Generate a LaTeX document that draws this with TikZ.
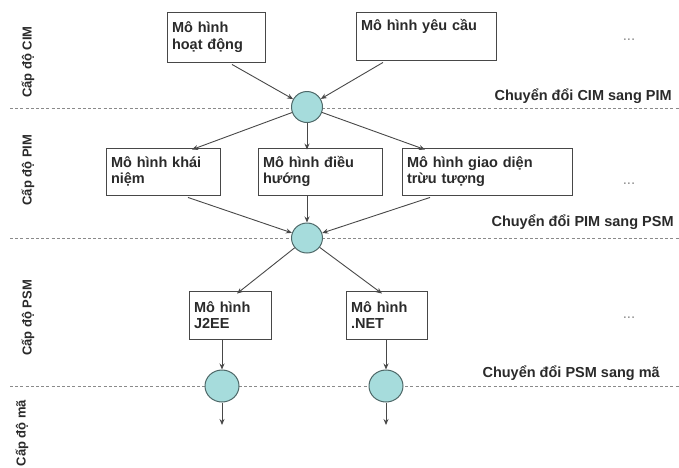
\documentclass[tikz,border=0pt]{standalone}
\usepackage{fontspec}
\setmainfont{Liberation Sans}
\usetikzlibrary{arrows.meta,shapes.geometric}
\definecolor{inkgray}{HTML}{2A2A2A}
\definecolor{linegray}{HTML}{484848}
\definecolor{dashgray}{HTML}{8A8A8A}
\definecolor{bubble}{HTML}{A6DCDC}
\definecolor{bubbleedge}{HTML}{4E6868}
\tikzset{
  model/.style={draw=linegray, line width=0.9pt, fill=white, align=left,
    inner xsep=5pt, inner ysep=0pt, anchor=center,
    font=\fontsize{14.5}{16.5}\selectfont\bfseries, text=inkgray},
  xform/.style={ellipse, draw=bubbleedge, line width=1pt, fill=bubble, inner sep=0pt},
  arr/.style={draw=linegray, line width=0.9pt, -{Stealth[length=6pt,width=5pt]}},
  levelsep/.style={draw=dashgray, line width=0.8pt, dash pattern=on 3pt off 2.2pt},
  levelname/.style={rotate=90, font=\fontsize{13}{15}\selectfont\bfseries, text=inkgray},
  steplabel/.style={anchor=west, font=\fontsize{14.5}{16}\selectfont\bfseries, text=inkgray},
  more/.style={font=\fontsize{15}{16}\selectfont, text=dashgray}
}
\begin{document}
\begin{tikzpicture}[x=1pt, y=-1pt]
\useasboundingbox (0,0) rectangle (679,467);

% level separators
\coordinate (s1l) at (10,108);  \coordinate (s1r) at (679,108);
\coordinate (s2l) at (10,238);  \coordinate (s2r) at (679,238);
\coordinate (s3l) at (10,386);  \coordinate (s3r) at (679,386);
\draw[levelsep] (s1l) -- (s1r);
\draw[levelsep] (s2l) -- (s2r);
\draw[levelsep] (s3l) -- (s3r);

% level names
\node[levelname] (lcim) at (28,62) {Cấp độ CIM};
\node[levelname] (lpim) at (28,170) {Cấp độ PIM};
\node[levelname] (lpsm) at (28,318) {Cấp độ PSM};
\node[levelname] (lcode) at (22,433) {Cấp độ mã};

% CIM models
\node[model, minimum width=98pt, minimum height=50pt, text width=88pt] (act) at (216,37) {Mô hình\\hoạt động};
\node[model, minimum width=140pt, minimum height=48pt, text width=130pt] (req) at (426,36) {Mô hình yêu cầu\\\strut};
\node[more] (m1) at (629,40) {...};

% PIM models
\node[model, minimum width=114pt, minimum height=47pt, text width=104pt] (con) at (163,171.5) {Mô hình khái\\niệm};
\node[model, minimum width=124pt, minimum height=47pt, text width=114pt] (nav) at (320,171.5) {Mô hình điều\\hướng};
\node[model, minimum width=170pt, minimum height=47pt, text width=160pt] (ui) at (487,171.5) {Mô hình giao diện\\trừu tượng};
\node[more] (m2) at (629,184) {...};

% PSM models
\node[model, minimum width=82pt, minimum height=48pt, text width=72pt] (j2ee) at (230,315) {Mô hình\\J2EE};
\node[model, minimum width=81pt, minimum height=48pt, text width=71pt] (net) at (386.5,315) {Mô hình\\.NET};
\node[more] (m3) at (629,318) {...};

% transformations
\node[xform, minimum width=31pt, minimum height=31pt] (t1) at (307,107) {};
\node[xform, minimum width=31pt, minimum height=30pt] (t2) at (307,238) {};
\node[xform, minimum width=34pt, minimum height=32pt] (t3) at (222,386) {};
\node[xform, minimum width=34pt, minimum height=32pt] (t4) at (386,386) {};

\node[steplabel] (lab1) at (491,96) {Chuyển đổi CIM sang PIM};
\node[steplabel] (lab2) at (488,222) {Chuyển đổi PIM sang PSM};
\node[steplabel] (lab3) at (479,373) {Chuyển đổi PSM sang mã};

% CIM -> PIM
\draw[arr] ([xshift=16pt,yshift=-2pt]act.south) -- (t1);
\draw[arr] ([xshift=-43pt,yshift=-2pt]req.south) -- (t1);
\draw[arr] (t1) -- ([xshift=29pt,yshift=-2pt]con.north);
\draw[arr] (t1) -- ([xshift=-13pt,yshift=-2pt]nav.north);
\draw[arr] (t1) -- ([xshift=-62pt,yshift=-2pt]ui.north);

% PIM -> PSM
\draw[arr] ([xshift=25pt,yshift=-2pt]con.south) -- (t2);
\draw[arr] ([xshift=-13pt,yshift=-1pt]nav.south) -- (t2);
\draw[arr] ([xshift=-57pt,yshift=-2pt]ui.south) -- (t2);
\draw[arr] (t2) -- ([xshift=7pt,yshift=-3pt]j2ee.north);
\draw[arr] (t2) -- ([xshift=-4.5pt,yshift=-3pt]net.north);

% PSM -> code
\draw[arr] ([xshift=-8pt,yshift=-1pt]j2ee.south) -- (t3);
\draw[arr] ([xshift=-0.5pt,yshift=-1pt]net.south) -- (t4);
\coordinate (out1) at (222,425);
\coordinate (out2) at (386,425);
\draw[arr] (t3) -- (out1);
\draw[arr] (t4) -- (out2);
\end{tikzpicture}
\end{document}
